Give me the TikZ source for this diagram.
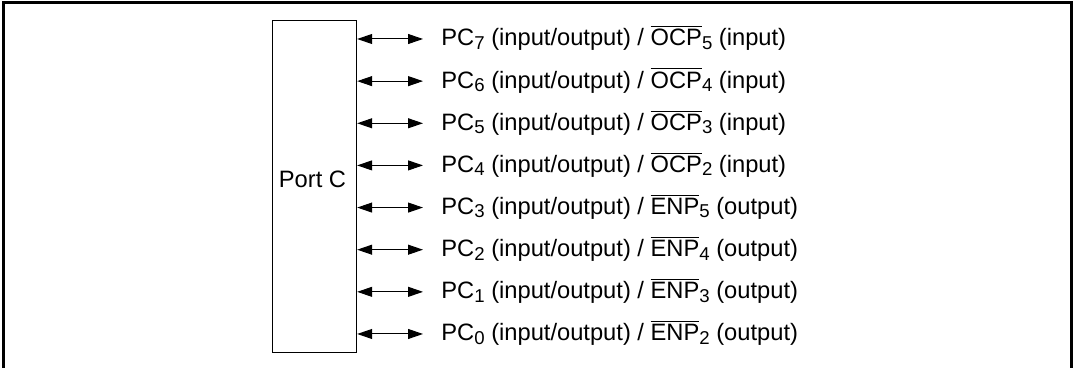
\documentclass[tikz,border=0pt]{standalone}
\usepackage{fontspec}
\setmainfont{Liberation Sans}
\usetikzlibrary{arrows.meta}
\newcommand{\ovl}[1]{$\overline{\hbox{#1}}$}
\newcommand{\sub}[1]{\raisebox{-1.7pt}{\fontsize{9.3}{10}\selectfont #1}}

\begin{document}
\begin{tikzpicture}[x=0.5pt,y=-0.5pt,
    pin/.style={{Triangle[length=7.5pt,width=5pt]}-{Triangle[length=7.5pt,width=5pt]}, line width=0.5pt},
    lbl/.style={anchor=base west, inner sep=0pt, font=\fontsize{11.85}{14}\selectfont}]
    \useasboundingbox (0,0) rectangle (1074,368);
    \draw[line width=1.5pt] (3,3) rectangle (1071,380);
    % the port block
    \node[draw, line width=0.6pt, anchor=north west, inner sep=0pt,
          minimum width=42pt, minimum height=166pt] (port) at (272,20) {};
    \node[anchor=base, inner sep=0pt, font=\fontsize{11.85}{14}\selectfont] (portlbl) at (312.5,188) {Port C};
    % pins
    \foreach \n/\sig/\k/\dir [count=\i from 0] in {7/OCP/5/input, 6/OCP/4/input, 5/OCP/3/input, 4/OCP/2/input,
                                                  3/ENP/5/output, 2/ENP/4/output, 1/ENP/3/output, 0/ENP/2/output} {
        \coordinate (e\n) at (423,39+42.14*\i);
        \node[lbl] (pc\n) at (441,46+42.14*\i) {PC\sub{\n} (input/output) / \ovl{\sig}\sub{\k} (\dir)};
        \draw[pin] (port.east |- e\n) -- (e\n);
    }
\end{tikzpicture}
\end{document}
